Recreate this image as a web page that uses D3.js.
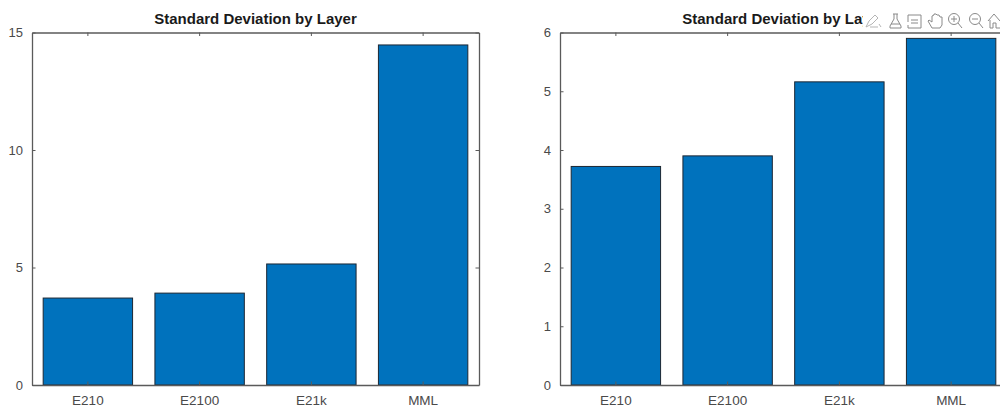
<!DOCTYPE html>
<html>
<head>
<meta charset="utf-8">
<script src="https://cdn.jsdelivr.net/npm/d3@7"></script>
<style>
  html, body { margin: 0; padding: 0; background: #fff; overflow: hidden; }
  text { font-family: "Liberation Sans", Arial, sans-serif; }
</style>
</head>
<body>
<div id="my_dataviz"></div>
<script>
// values
var categories = ["E210", "E2100", "E21k", "MML"];
var leftValues = [3.7, 3.91, 5.15, 14.47];
var rightValues = [3.72, 3.9, 5.16, 5.9];
var leftTicks = [0, 5, 10, 15];
var rightTicks = [0, 1, 2, 3, 4, 5, 6];
var titleText = "Standard Deviation by Layer";

var top_ = 32.5, bottom_ = 385, axisColor = "#5a5a5a";

var svg = d3.select("#my_dataviz")
  .append("svg")
    .attr("width", 1000)
    .attr("height", 408)
    .style("display", "block");

function drawPanel(left, right, values, yMax, ticks) {
  var x = d3.scaleBand()
    .domain(categories)
    .range([left, right])
    .paddingInner(0.2)
    .paddingOuter(0.1);

  var y = d3.scaleLinear()
    .domain([0, yMax])
    .range([bottom_, top_]);

  svg.append("g")
    .selectAll("rect")
    .data(values)
    .enter()
    .append("rect")
      .attr("x", function(d, i) { return x(categories[i]); })
      .attr("y", function(d) { return y(d); })
      .attr("width", x.bandwidth())
      .attr("height", function(d) { return y(0) - y(d); })
      .attr("fill", "#0072bd")
      .attr("stroke", "#1c2733")
      .attr("stroke-width", 1);

  // matlab style box: ticks point inward on all four sides
  var bottomAxis = svg.append("g")
    .attr("transform", "translate(0," + bottom_ + ")")
    .call(d3.axisBottom(x).tickSizeInner(-3.5).tickSizeOuter(0).tickPadding(10));
  var topAxis = svg.append("g")
    .attr("transform", "translate(0," + top_ + ")")
    .call(d3.axisTop(x).tickSizeInner(-3.5).tickSizeOuter(0).tickFormat(""));
  var leftAxis = svg.append("g")
    .attr("transform", "translate(" + left + ",0)")
    .call(d3.axisLeft(y).tickValues(ticks).tickFormat(d3.format("d")).tickSizeInner(-3.5).tickSizeOuter(0).tickPadding(9));
  var rightAxis = svg.append("g")
    .attr("transform", "translate(" + right + ",0)")
    .call(d3.axisRight(y).tickValues(ticks).tickSizeInner(-3.5).tickSizeOuter(0).tickFormat(""));

  [bottomAxis, topAxis, leftAxis, rightAxis].forEach(function(a) {
    a.selectAll("path").attr("stroke", axisColor).attr("stroke-width", 1.3);
    a.selectAll("line").attr("stroke", axisColor);
    a.selectAll("text")
      .attr("fill", "#4a4a4a")
      .style("font-size", "13px");
  });
  bottomAxis.selectAll("text").style("font-size", "13.5px");

  svg.append("text")
    .attr("x", (left + right) / 2)
    .attr("y", 24)
    .attr("text-anchor", "middle")
    .attr("fill", "#1a1a1a")
    .style("font-size", "15px")
    .style("font-weight", "bold")
    .text(titleText);
}

drawPanel(32, 479, leftValues, 15, leftTicks);
drawPanel(560, 1007, rightValues, 6, rightTicks);

// figure toolbar that sits over the right title
var bar = svg.append("g");
bar.append("rect")
  .attr("x", 863).attr("y", 8).attr("width", 137).attr("height", 23.5)
  .attr("fill", "#fff");

var icons = bar.append("g")
  .attr("fill", "none")
  .attr("stroke", "#8a8a8a")
  .attr("stroke-width", 1)
  .attr("stroke-linejoin", "round");

// brush, flask, legend box, hand, zoom in, zoom out, home
icons.append("path").attr("stroke", "#b5b5b5").attr("d", "M866 27 l3 -6 l6 -6 l3 3 l-6 6 z M870 27 h8 M879 24 l2 3");
icons.append("path").attr("d", "M893 14 h5 M894 14 v5 l-4 7 v2 h11 v-2 l-4 -7 v-5 M891 24 h9");
icons.append("path").attr("d", "M908 15 h13 v13 h-13 v-3 M908 22 v-7 M911 20 h7 M911 23 h7");
icons.append("path").attr("d", "M932 28 l-4 -7 l1 -1 l3 2 v-6 l2 -1 v-1 h2 l1 1 h2 l1 2 l2 0 v8 l-2 3 z");
icons.append("circle").attr("cx", 954).attr("cy", 19).attr("r", 5.5);
icons.append("path").attr("d", "M951 19 h6 M954 16 v6 M958 23 l4 5");
icons.append("circle").attr("cx", 975).attr("cy", 19).attr("r", 5.5);
icons.append("path").attr("d", "M972 19 h6 M979 23 l4 5");
icons.append("path").attr("d", "M988 21 l6 -7 l6 7 M990 20 v8 h3 v-5 h3 v5 h4");
</script>
</body>
</html>
